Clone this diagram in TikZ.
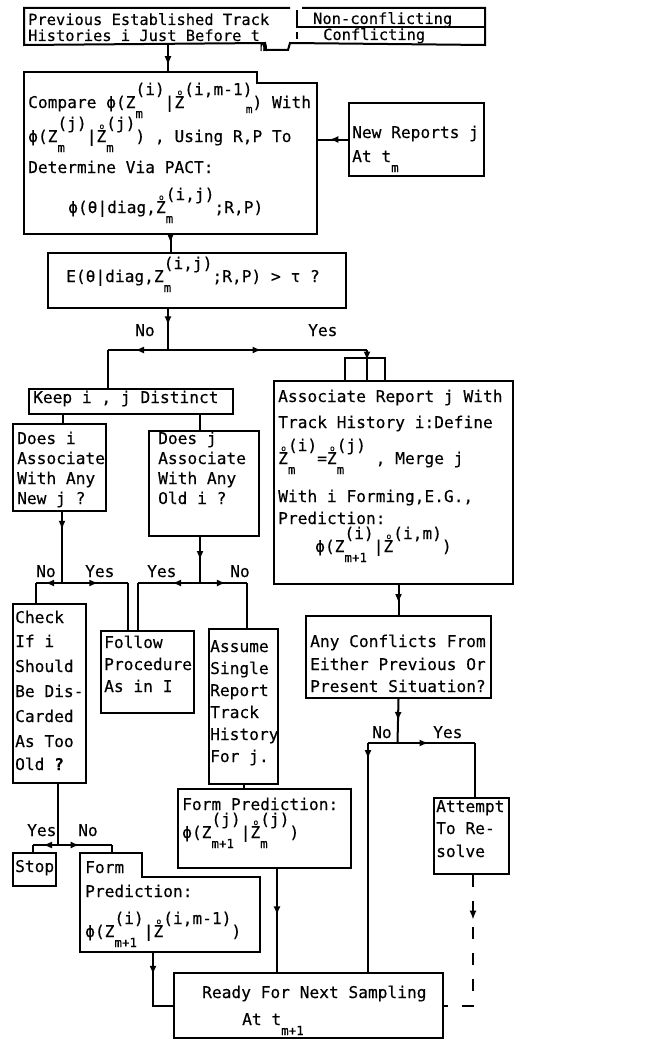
\documentclass[tikz,border=0pt]{standalone}
\usepackage{fontspec}
\newfontfamily\tf[FakeBold=0.3]{DejaVu Sans Mono}
\usetikzlibrary{arrows.meta,decorations.markings}
\newcommand\tfs{\tf\fontsize{16.2}{18}\selectfont}
\newcommand\tfsm{\tf\fontsize{15.4}{17}\selectfont}
\newcommand\myUp[1]{\raisebox{13pt}{#1}}
\newcommand\myDn[1]{\raisebox{-10pt}{\fontsize{12.5}{13}\selectfont #1}}
\newcommand\myUD[2]{\rlap{\myDn{#1}}\myUp{#2}}
\newcommand\rZ{\rlap{\raisebox{13pt}{\kern3pt\fontsize{8}{8}\selectfont o}}Z}
\newcommand\myTx[4]{\node[tx] (#1) at (#2,#3) {#4};}
\newcommand\myBx[6]{\node[bx, minimum width=#4pt, minimum height=#5pt, #6] (#1) at (#2,#3) {};}
\tikzset{
  ln/.style={line width=2pt},
  bx/.style={ln, draw, inner sep=0pt, anchor=north west},
  nb/.style={draw=none},
  tx/.style={anchor=base west, inner sep=0pt, font=\tfs},
  ma/.style={ln, postaction={decorate}, decoration={markings, mark=at position #1 with {\arrow{Latex[length=9pt,width=7pt]}}}},
  ma/.default=0.5
}
\begin{document}
\begin{tikzpicture}[x=1pt,y=-1pt]
\useasboundingbox (0,0) rectangle (647,1041);
% ---------- boxes
\myBx{prev}{24}{8}{459}{35}{nb}
\draw[ln] (290,8) -| (prev.south west) -- (265,43) -- (265,50) -- (288,50) -- (290,43) -- (prev.south east) |- (302,8);
\draw[ln] (297,10) -- (297,27) -- (prev.east |- 297,27);
\draw[ln] (297,32) -- (297,39);
\myBx{cmp}{24}{72}{291}{160}{nb}
\draw[ln] (cmp.north west) -- (257,72) -- (257,83) -- (cmp.north east |- 257,83) -- (cmp.south east) -- (cmp.south west) -- cycle;
\myBx{newr}{348}{102}{135}{73}{}
\myBx{expb}{47}{252}{298}{55}{}
\myBx{keep}{28}{388}{204}{25}{}
\myBx{assoc}{273}{380}{239}{203}{}
\myBx{doesi}{12}{423}{93}{87}{}
\myBx{doesj}{148}{430}{110}{105}{}
\myBx{check}{12}{603}{73}{179}{}
\myBx{follow}{100}{630}{93}{82}{}
\myBx{assume}{208}{628}{69}{155}{}
\myBx{conf}{305}{615}{185}{82}{}
\myBx{jpred}{177}{788}{173}{79}{}
\myBx{attempt}{433}{797}{75}{76}{}
\myBx{stop}{12}{852}{43}{33}{}
\myBx{ipred}{80}{853}{178}{97}{nb}
\draw[ln] (ipred.north west) -- (142,853) -- (142,877) -- (ipred.north east |- 142,877) -- (ipred.south east) -- (ipred.south west) -- cycle;
\myBx{ready}{173}{972}{269}{65}{}
% ---------- texts
\myTx{p1}{28}{25}{\tfsm Previous Established Track}
\myTx{p2}{28}{41}{\tfsm Histories i Just Before t\myDn{m}}
\myTx{p3}{313}{24}{\tfsm Non-conflicting}
\myTx{p4}{323}{40}{\tfsm Conflicting}
\myTx{c1}{28}{108}{Compare ϕ(Z\myUD{m}{(i)}|\rZ\myUp{(i,m-1)}\llap{\raisebox{-5pt}{\fontsize{11}{11}\selectfont m}}) With}
\myTx{c2}{28}{142}{ϕ(Z\myUD{m}{(j)}|\rZ\myUD{m}{(j)}) , Using R,P To}
\myTx{c3}{28}{173}{Determine Via PACT:}
\myTx{c4}{68}{213}{ϕ(θ|diag,\rZ\myUD{m}{(i,j)};R,P)}
\myTx{n1}{352}{138}{New Reports j}
\myTx{n2}{352}{162}{At t\myDn{m}}
\myTx{e1}{66}{282}{E(θ|diag,Z\myUD{m}{(i,j)};R,P) > τ  ?}
\myTx{lno}{135}{336}{No}
\myTx{lyes}{308}{336}{Yes}
\myTx{k1}{33}{403}{Keep i , j Distinct}
\myTx{a1}{278}{402}{Associate Report j With}
\myTx{a2}{278}{428}{Track History i:Define}
\myTx{a3}{278}{464}{\rZ\myUD{m}{(i)}=\rZ\myUD{m}{(j)}  , Merge j}
\myTx{a4}{278}{502}{With i Forming,E.G.,}
\myTx{a5}{278}{524}{Prediction:}
\myTx{a6}{315}{552}{ϕ(Z\myUD{m+1}{(i)}|\rZ\myUp{(i,m)})}
\myTx{di1}{17}{444}{Does i}
\myTx{di2}{17}{464}{Associate}
\myTx{di3}{17}{484}{With Any}
\myTx{di4}{17}{504}{New j ?}
\myTx{dj1}{158}{444}{Does j}
\myTx{dj2}{158}{464}{Associate}
\myTx{dj3}{158}{484}{With Any}
\myTx{dj4}{158}{504}{Old i ?}
\myTx{l1}{36}{577}{No}
\myTx{l2}{85}{577}{Yes}
\myTx{l3}{147}{577}{Yes}
\myTx{l4}{230}{577}{No}
\myTx{ch1}{15}{623}{Check}
\myTx{ch2}{15}{647}{If i}
\myTx{ch3}{15}{672}{Should}
\myTx{ch4}{15}{697}{Be Dis-}
\myTx{ch5}{15}{722}{Carded}
\myTx{ch6}{15}{747}{As Too}
\myTx{ch7}{15}{770}{Old {\bfseries ?}}
\myTx{f1}{104}{648}{Follow}
\myTx{f2}{104}{670}{Procedure}
\myTx{f3}{104}{692}{As in I}
\myTx{s1}{210}{652}{Assume}
\myTx{s2}{210}{674}{Single}
\myTx{s3}{210}{696}{Report}
\myTx{s4}{210}{718}{Track}
\myTx{s5}{210}{740}{History}
\myTx{s6}{210}{762}{For j.}
\myTx{q1}{310}{647}{Any Conflicts From}
\myTx{q2}{310}{670}{Either Previous Or}
\myTx{q3}{310}{692}{Present Situation?}
\myTx{l5}{372}{738}{No}
\myTx{l6}{433}{738}{Yes}
\myTx{jp1}{182}{810}{Form Prediction:}
\myTx{jp2}{182}{838}{ϕ(Z\myUD{m+1}{(j)}|\rZ\myUD{m}{(j)})}
\myTx{at1}{436}{812}{Attempt}
\myTx{at2}{436}{834}{To Re-}
\myTx{at3}{436}{857}{solve}
\myTx{l7}{27}{836}{Yes}
\myTx{l8}{78}{836}{No}
\myTx{st}{15}{872}{Stop}
\myTx{ip1}{85}{873}{Form}
\myTx{ip2}{85}{897}{Prediction:}
\myTx{ip3}{85}{937}{ϕ(Z\myUD{m+1}{(i)}|\rZ\myUp{(i,m-1)})}
\myTx{r1}{202}{998}{Ready For Next Sampling}
\myTx{r2}{242}{1025}{At t\myDn{m+1}}
% ---------- connectors
\draw[ma=0.75] ([xshift=144pt]prev.south west) -- ([xshift=144pt]cmp.north west);
\draw[ma=0.6] (newr.west) -- (newr.west -| cmp.east);
\draw[ma=0.5] (cmp.south) -- (cmp.south |- expb.north);
\coordinate (jA) at (168,350);
\coordinate (jAl) at (108,350);
\coordinate (jAr) at (367,350);
\draw[ma=0.4] ([xshift=121pt]expb.south west) -- (jA);
\draw[ma=0.55] (jA) -- (jAl);
\draw[ln] (jAl) -- (jAl |- keep.north);
\draw[ma=0.47] (jA) -- (jAr);
\draw[ma=0.35] (jAr) -- (jAr |- assoc.north);
\draw[ln] ([xshift=72pt]assoc.north west) |- (385,358) -- ([xshift=112pt]assoc.north west);
\draw[ln] ([xshift=35pt]keep.south west) -- ([xshift=35pt]keep.south west |- doesi.north);
\draw[ln] ([xshift=172pt]keep.south west) -- ([xshift=172pt]keep.south west |- doesj.north);
\coordinate (jB) at (62,583);
\coordinate (jBl) at (36,583);
\coordinate (jBr) at (128,583);
\draw[ma=0.25] ([xshift=50pt]doesi.south west) -- (jB);
\draw[ma=0.65] (jB) -- (jBl);
\draw[ln] (jBl) -- (jBl |- check.north);
\draw[ma=0.55] (jB) -- (jBr);
\draw[ln] (jBr) -- (jBr |- follow.north);
\coordinate (jC) at (200,583);
\coordinate (jCl) at (138,583);
\coordinate (jCr) at (247,583);
\draw[ma=0.5] ([xshift=52pt]doesj.south west) -- (jC);
\draw[ma=0.45] (jC) -- (jCl);
\draw[ln] (jCl) -- (jCl |- follow.north);
\draw[ma=0.55] (jC) -- (jCr);
\draw[ln] (jCr) -- (jCr |- assume.north);
\draw[ma=0.6] (conf.north |- assoc.south) -- (conf.north);
\coordinate (jD) at (397.5,743);
\coordinate (jDl) at (368,743);
\coordinate (jDr) at (475,743);
\draw[ma=0.5] (conf.south) -- (jD);
\draw[ln] (jD) -- (jDl);
\draw[ma=0.07] (jDl) -- (jDl |- ready.north);
\draw[ma=0.4] (jD) -- (jDr);
\draw[ln] (jDr) -- (jDr |- attempt.north);
\draw[ma=0.28, dashed, dash pattern=on 12pt off 14pt] ([xshift=40pt]attempt.south west) |- (ready.east);
\draw[ln] (assume.south) -- (assume.south |- jpred.north);
\draw[ma=0.45] ([xshift=100pt]jpred.south west) -- ([xshift=100pt]jpred.south west |- ready.north);
\coordinate (jE) at (58,845);
\coordinate (jEl) at (33,845);
\coordinate (jEr) at (112,845);
\draw[ln] ([xshift=46pt]check.south west) -- (jE);
\draw[ma=0.6] (jE) -- (jEl);
\draw[ln] (jEl) -- (jEl |- stop.north);
\draw[ma=0.4] (jE) -- (jEr);
\draw[ln] (jEr) -- (jEr |- ipred.north);
\draw[ma=0.31] ([xshift=73pt]ipred.south west) |- (ready.west);
\end{tikzpicture}
\end{document}
